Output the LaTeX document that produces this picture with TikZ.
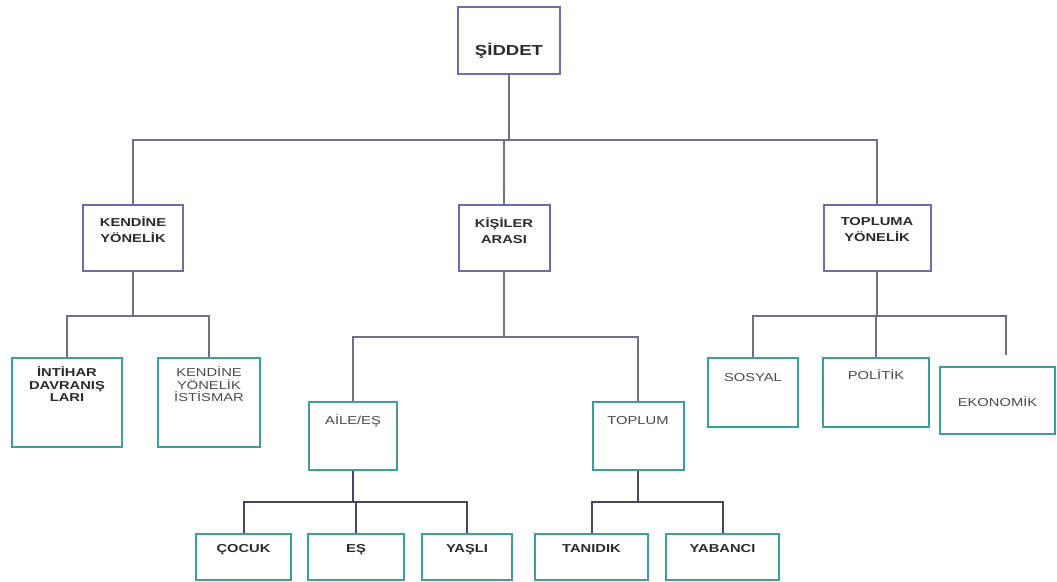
\documentclass[tikz,border=0pt]{standalone}
\usepackage{fontspec}
\setmainfont{Liberation Sans}[FakeStretch=1.28]
\usepackage{tikz}
\definecolor{group}{HTML}{6C6CAC}
\definecolor{leaf}{HTML}{3D9E96}
\definecolor{link}{HTML}{707084}
\definecolor{linkdark}{HTML}{46465E}
\definecolor{ink}{HTML}{2B2B2B}
\definecolor{inklight}{HTML}{4A4A4A}
\tikzset{root/.style={text=ink,draw=group,line width=2pt,fill=white,rectangle,inner sep=0pt,font=\fontsize{14.5}{15}\selectfont\bfseries}}
\tikzset{group/.style={text=ink,draw=group,line width=2pt,fill=white,rectangle,align=center,inner sep=0pt,text depth=0pt,font=\fontsize{11.5}{16}\selectfont\bfseries}}
\tikzset{leaf/.style={text=ink,draw=leaf,line width=2pt,fill=white,rectangle,align=center,inner sep=0pt,text height=0pt,font=\fontsize{11.5}{12.3}\selectfont\bfseries}}
\tikzset{light/.style={text=inklight,font=\fontsize{11.5}{12.3}\selectfont}}
\tikzset{link/.style={draw=link,line width=1.5pt}}
\tikzset{linkdark/.style={draw=linkdark,line width=2pt}}

\begin{document}
\begin{tikzpicture}[x=1pt,y=-1pt]
    \fill[white] (0,0) rectangle (1057,581);
    \useasboundingbox (0,0) rectangle (1057,581);

    \node[root,minimum width=102pt,minimum height=67pt,text height=30pt,text depth=0pt] (sid) at (509,40.5) {ŞİDDET};

    \node[group,minimum width=100pt,minimum height=66pt,text height=9.6pt] (kend) at (133,237.5) {KENDİNE\\YÖNELİK};
    \node[group,minimum width=91pt,minimum height=66pt,text height=10.6pt] (kisi) at (504,238) {KİŞİLER\\ARASI};
    \node[group,minimum width=107pt,minimum height=66pt,text height=7.6pt] (topl) at (877,238) {TOPLUMA\\YÖNELİK};

    \node[leaf,minimum width=110pt,minimum height=89pt,text depth=2pt] (inti) at (67,402.5) {İNTİHAR\\DAVRANIŞ\\LARI};
    \node[leaf,light,minimum width=102pt,minimum height=89pt,text depth=2pt] (kyis) at (209,402.5) {KENDİNE\\YÖNELİK\\İSTİSMAR};

    \node[leaf,light,minimum width=88pt,minimum height=68pt,text depth=23pt] (aile) at (353,436) {AİLE/EŞ};
    \node[leaf,light,minimum width=91pt,minimum height=68pt,text depth=23pt] (toplum) at (638,436) {TOPLUM};

    \node[leaf,light,minimum width=90pt,minimum height=69pt,text depth=22pt] (sosyal) at (753,392.5) {SOSYAL};
    \node[leaf,light,minimum width=106pt,minimum height=69pt,text depth=26pt] (politik) at (876,392.5) {POLİTİK};
    \node[leaf,light,minimum width=115pt,minimum height=67pt,text height=11.6pt,text depth=0pt] (eko) at (997.5,400.5) {EKONOMİK};

    \node[leaf,minimum width=95pt,minimum height=46pt,text depth=9pt] (cocuk) at (243.5,557) {ÇOCUK};
    \node[leaf,minimum width=96pt,minimum height=46pt,text depth=9pt] (es) at (356,557) {EŞ};
    \node[leaf,minimum width=90pt,minimum height=46pt,text depth=9pt] (yasli) at (467,557) {YAŞLI};
    \node[leaf,minimum width=113pt,minimum height=46pt,text depth=9pt] (tanidik) at (591.5,557) {TANIDIK};
    \node[leaf,minimum width=113pt,minimum height=46pt,text depth=9pt] (yabanci) at (722.5,557) {YABANCI};

    % branch points
    \coordinate (bar1) at (509,140);
    \coordinate (bar2) at (133,316);
    \coordinate (bar3) at (504,337);
    \coordinate (bar4) at (877,316);
    \coordinate (bar5) at (353,502);
    \coordinate (bar6) at (638,502);
    \coordinate (ekotop) at (1006,355);

    \draw[link] (sid) -- (bar1);
    \draw[link] (bar1) -| (kend);
    \draw[link] (bar1) -| (kisi);
    \draw[link] (bar1) -| (topl);

    \draw[link] (kend) -- (bar2);
    \draw[link] (bar2) -| (inti);
    \draw[link] (bar2) -| (kyis);

    \draw[link] (kisi) -- (bar3);
    \draw[link] (bar3) -| (aile);
    \draw[link] (bar3) -| (toplum);

    \draw[link] (topl) -- (bar4);
    \draw[link] (bar4) -| (sosyal);
    \draw[link] (bar4) -| (politik);
    \draw[link] (bar4) -| (ekotop);

    \draw[linkdark] (aile) -- (bar5);
    \draw[linkdark] (bar5) -| (cocuk);
    \draw[linkdark] (bar5) -| (es);
    \draw[linkdark] (bar5) -| (yasli);

    \draw[linkdark] (toplum) -- (bar6);
    \draw[linkdark] (bar6) -| (tanidik);
    \draw[linkdark] (bar6) -| (yabanci);

\end{tikzpicture}
\end{document}
